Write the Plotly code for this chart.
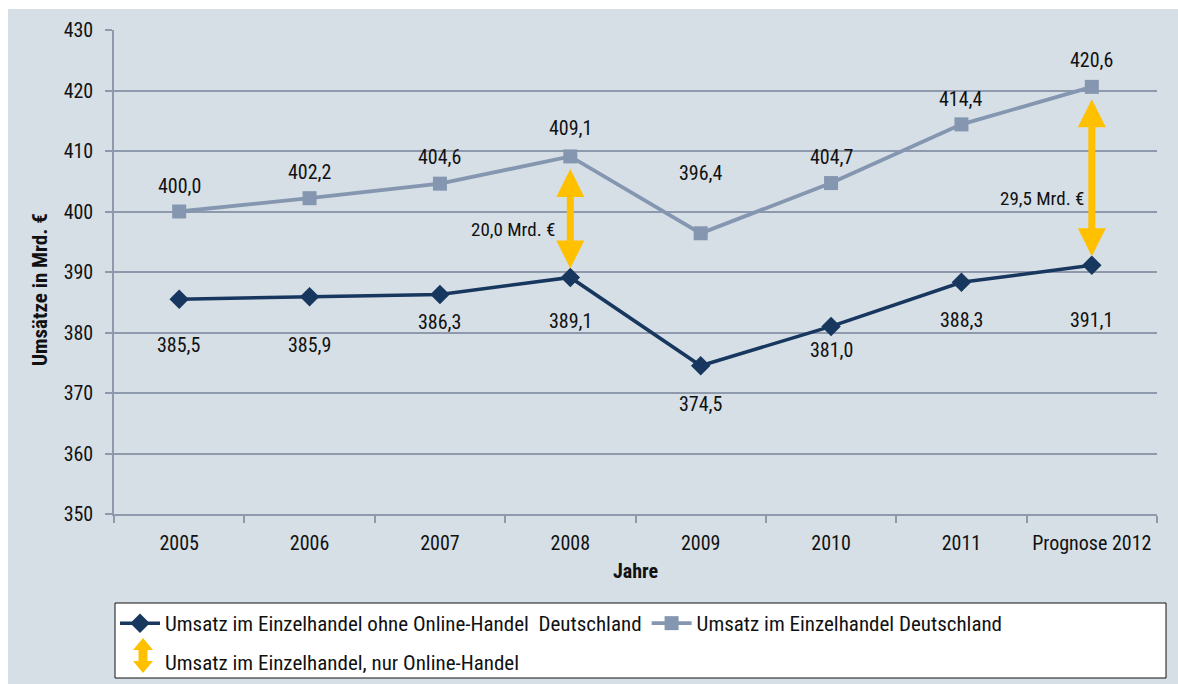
import plotly.graph_objects as go

# Jahre / Kategorien
years = ["2005", "2006", "2007", "2008", "2009", "2010", "2011", "Prognose 2012"]

# Umsatz im Einzelhandel Deutschland (Mrd. €)
total_sales = [400.0, 402.2, 404.6, 409.1, 396.4, 404.7, 414.4, 420.6]
# Umsatz im Einzelhandel ohne Online-Handel Deutschland (Mrd. €)
offline_sales = [385.5, 385.9, 386.3, 389.1, 374.5, 381.0, 388.3, 391.1]

# Online-Anteil, als Doppelpfeil markiert
online_years = ["2008", "Prognose 2012"]
online_labels = ["20,0 Mrd. €", "29,5 Mrd. €"]

# vertikale Abstände der Wertebeschriftungen (px)
total_label_shift = [26, 26, 27, 28, 60, 26, 25, 27]
offline_label_shift = [-46, -48, -28, -44, -38, -24, -38, -55]

FONT = "Roboto Condensed, Liberation Sans Narrow, Arial Narrow, sans-serif"
BG = "#D6DFE6"
GRID = "#8E99AB"
NAVY = "#17375E"
STEEL = "#8496B0"
GOLD = "#FFC000"
TXT = "#111111"

# Plotbereich in Pixeln, für Papierkoordinaten
W, H = 1178, 684
L, R, T, B = 114, 21, 30, 170
PW, PH = W - L - R, H - T - B


def px(x):
    return (x - L) / PW


def py(y):
    return (H - B - y) / PH


def fmt(v):
    return f"{v:.1f}".replace(".", ",")


fig = go.Figure()

fig.add_trace(go.Scatter(
    x=years, y=offline_sales, mode="lines+markers",
    name="Umsatz im Einzelhandel ohne Online-Handel  Deutschland",
    line=dict(color=NAVY, width=3.5),
    marker=dict(symbol="diamond", size=15, color=NAVY),
    legend="legend",
))
fig.add_trace(go.Scatter(
    x=years, y=total_sales, mode="lines+markers",
    name="Umsatz im Einzelhandel Deutschland",
    line=dict(color=STEEL, width=3.8),
    marker=dict(symbol="square", size=14, color=STEEL),
    legend="legend",
))
# Legendeneintrag für die Doppelpfeile (Symbol wird als Pfad darübergelegt)
fig.add_trace(go.Scatter(
    x=[None], y=[None], mode="markers",
    name="Umsatz im Einzelhandel, nur Online-Handel",
    marker=dict(size=1, color="rgba(0,0,0,0)"),
    legend="legend2",
))

annotations = []

# Wertebeschriftungen (x als Kategorienindex)
for i, (v, s) in enumerate(zip(total_sales, total_label_shift)):
    annotations.append(dict(x=i, y=v, text=fmt(v), showarrow=False,
                            yshift=s, font=dict(family=FONT, size=20, color=TXT)))
for i, (v, s) in enumerate(zip(offline_sales, offline_label_shift)):
    annotations.append(dict(x=i, y=v, text=fmt(v), showarrow=False,
                            yshift=s, font=dict(family=FONT, size=20, color=TXT)))

# Doppelpfeile zwischen beiden Reihen
for cat, lab, shift, xs in zip(online_years, online_labels, [-13, -22], [-13, -6]):
    i = years.index(cat)
    hi, lo = total_sales[i], offline_sales[i]
    annotations.append(dict(
        x=i, y=lo, ax=i, ay=hi, xref="x", yref="y", axref="x", ayref="y",
        text="", showarrow=True, arrowside="end+start", arrowhead=2,
        arrowsize=0.8, arrowwidth=7, arrowcolor=GOLD,
        standoff=9, startstandoff=11,
    ))
    annotations.append(dict(
        x=i, y=(hi + lo) / 2, text=lab, showarrow=False,
        xanchor="right", xshift=xs, yshift=shift,
        font=dict(family=FONT, size=19, color=TXT),
    ))

# y-Achsentitel
annotations.append(dict(
    x=px(40), y=py(290), xref="paper", yref="paper", showarrow=False,
    xanchor="center", yanchor="middle",
    text="<b>Umsätze in Mrd. €</b>", textangle=-90,
    font=dict(family=FONT, size=21, color=TXT),
))


# Doppelpfeil-Symbol der Legende als Pfad
def legend_arrow(cx, top, bottom, hw=10, sw=4.5, hl=12):
    pts = [(cx, top), (cx + hw, top + hl), (cx + sw, top + hl), (cx + sw, bottom - hl),
           (cx + hw, bottom - hl), (cx, bottom), (cx - hw, bottom - hl), (cx - sw, bottom - hl),
           (cx - sw, top + hl), (cx - hw, top + hl)]
    return "M " + " L ".join(f"{px(a):.5f},{py(b):.5f}" for a, b in pts) + " Z"


shapes = [
    # Hintergrundfläche
    dict(type="rect", xref="paper", yref="paper", layer="below",
         x0=px(8), x1=px(W + 5), y0=py(H + 5), y1=py(9),
         fillcolor=BG, line=dict(width=0)),
    # Legendenrahmen
    dict(type="rect", xref="paper", yref="paper", layer="below",
         x0=px(115), x1=px(1166), y0=py(678), y1=py(603),
         fillcolor="white", line=dict(color=TXT, width=1)),
    dict(type="path", xref="paper", yref="paper", layer="above",
         path=legend_arrow(143, 638, 673), fillcolor=GOLD, line=dict(width=0)),
]

fig.update_layout(
    width=W, height=H,
    margin=dict(l=L, r=R, t=T, b=B, autoexpand=False),
    paper_bgcolor="white",
    plot_bgcolor="rgba(0,0,0,0)",
    font=dict(family=FONT, size=20, color=TXT),
    showlegend=True,
    legend=dict(orientation="h", x=px(115), y=py(603), xanchor="left", yanchor="top",
                bgcolor="rgba(0,0,0,0)", font=dict(family=FONT, size=21, color=TXT),
                itemwidth=40, tracegroupgap=0),
    legend2=dict(orientation="h", x=px(115), y=py(642), xanchor="left", yanchor="top",
                 bgcolor="rgba(0,0,0,0)", font=dict(family=FONT, size=21, color=TXT),
                 itemwidth=40),
    annotations=annotations,
    shapes=shapes,
    xaxis=dict(
        type="category", range=[-0.5, 7.5], automargin=False, tickangle=0,
        showgrid=False, showline=True, linecolor=GRID, linewidth=1.5,
        ticks="outside", tickson="boundaries", ticklen=7, tickcolor=GRID, tickwidth=1.5,
        ticklabelstandoff=10,
        tickfont=dict(family=FONT, size=20, color=TXT),
        title=dict(text="<b>Jahre</b>", font=dict(family=FONT, size=20, color=TXT), standoff=10),
    ),
    yaxis=dict(
        range=[350, 430], dtick=10, tick0=350, automargin=False,
        showgrid=True, gridcolor=GRID, gridwidth=1.5,
        showline=True, linecolor=GRID, linewidth=1.5,
        ticks="outside", ticklen=7, tickcolor=GRID, tickwidth=1.5,
        ticklabelstandoff=8,
        tickfont=dict(family=FONT, size=20, color=TXT),
        zeroline=False,
    ),
)

fig.write_html("out.html")
